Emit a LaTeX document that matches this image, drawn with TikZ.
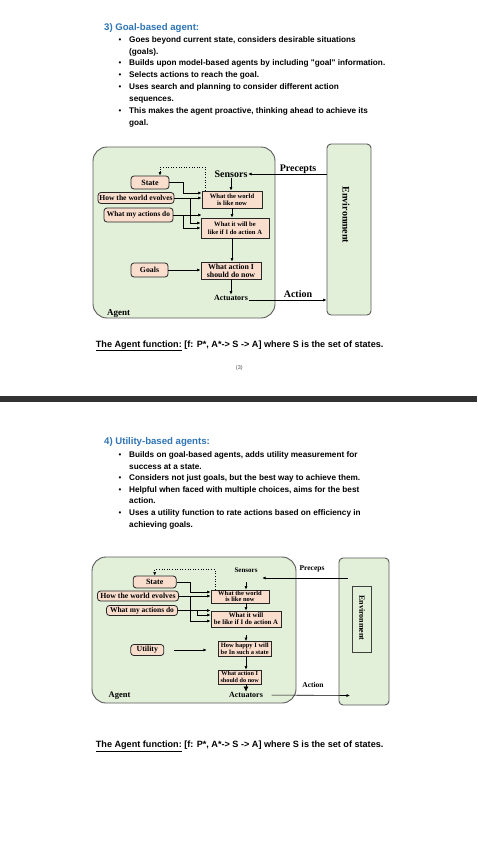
\documentclass[tikz,border=0pt]{standalone}
\usepackage{fontspec}
\setmainfont{Liberation Serif}
\newfontfamily\docfont{Liberation Sans}
\usepackage{tikz}
\usetikzlibrary{arrows.meta}

\definecolor{headblue}{RGB}{46,116,181}
\definecolor{agentgreen}{RGB}{226,239,217}
\definecolor{memopeach}{RGB}{249,221,205}
\definecolor{bandgray}{RGB}{50,50,50}

\newcommand{\dfont}[2]{\bfseries\fontsize{#1}{#2}\selectfont}

\tikzset{
  headline/.style={anchor=base west, inner sep=0pt, text=headblue, font=\docfont\bfseries\fontsize{9.6}{12}\selectfont},
  doctext/.style={anchor=base west, inner sep=0pt, font=\docfont\bfseries\fontsize{8.2}{12}\selectfont},
  functext/.style={anchor=base west, inner sep=0pt, font=\docfont\bfseries\fontsize{9.1}{12}\selectfont},
  bulletdot/.style={anchor=base, inner sep=0pt, font=\docfont\fontsize{8}{8}\selectfont},
  agentbox/.style={draw=black!65, fill=agentgreen, line width=0.9pt, rounded corners=14pt},
  envbox/.style={draw=black!65, fill=agentgreen, line width=0.9pt, rounded corners=4pt},
  memo/.style={draw=black!85, fill=memopeach, line width=0.8pt, rounded corners=3pt, inner sep=0pt},
  proc/.style={draw=black!85, fill=memopeach, line width=0.8pt, inner sep=0pt, align=center},
  tag/.style={inner sep=0.5pt},
  flow/.style={-{Latex[length=3.5pt,width=3pt]}, line width=0.6pt}
}

\begin{document}
\begin{tikzpicture}[x=1pt, y=-1pt]
  \useasboundingbox (0,0) rectangle (477,862);
  \fill[white] (0,0) rectangle (477,862);
  \fill[bandgray] (0,396) rectangle (477,402);

  \begin{scope}
    \node[headline] (head1) at (104,30) {3) Goal-based agent:};
    \node[bulletdot] (d11) at (120,42.3) {\textbullet};
    \node[doctext] (t11) at (129,42.3) {Goes beyond current state, considers desirable situations};
    \node[doctext] (t12) at (129,54.3) {(goals).};
    \node[bulletdot] (d12) at (120,65.8) {\textbullet};
    \node[doctext] (t13) at (129,65.8) {Builds upon model-based agents by including "goal" information.};
    \node[bulletdot] (d13) at (120,77.4) {\textbullet};
    \node[doctext] (t14) at (129,77.4) {Selects actions to reach the goal.};
    \node[bulletdot] (d14) at (120,89.6) {\textbullet};
    \node[doctext] (t15) at (129,89.6) {Uses search and planning to consider different action};
    \node[doctext] (t16) at (129,101.6) {sequences.};
    \node[bulletdot] (d15) at (120,113.4) {\textbullet};
    \node[doctext] (t17) at (129,113.4) {This makes the agent proactive, thinking ahead to achieve its};
    \node[doctext] (t18) at (129,125.2) {goal.};

    \node[agentbox, minimum width=182, minimum height=171] (agent1) at (184,232.5) {};
    \node[envbox, minimum width=44, minimum height=171] (env1) at (349,229.5) {};
    \node[tag, rotate=-90, font=\dfont{10}{10}] (envlbl1) at (346,215) {Environment};
    \node[tag, font=\dfont{9}{9}, anchor=base west] (agentlbl1) at (106.5,315) {Agent};
    \node[tag, font=\dfont{10}{10}] (sensors1) at (231,174) {Sensors};
    \node[tag, font=\dfont{8}{8}] (actuators1) at (231,298) {Actuators};
    \node[tag, font=\dfont{10}{10}] (precepts1) at (298,169) {Precepts};
    \node[tag, font=\dfont{10}{10}] (action1) at (298,294) {Action};

    \node[memo, minimum width=38, minimum height=13, font=\dfont{8}{8}] (state1) at (150,182.5) {State};
    \node[memo, minimum width=76, minimum height=11, font=\dfont{7.6}{8}] (evolve1) at (136,198) {How the world evolves};
    \node[memo, minimum width=69, minimum height=14, font=\dfont{7.4}{8}] (actions1) at (138.5,215) {What my actions do};
    \node[proc, minimum width=60, minimum height=17, font=\dfont{6.6}{7.2}] (now1) at (232,199.5) {What the world\\is like now};
    \node[proc, minimum width=68, minimum height=20, font=\dfont{6.6}{7.6}] (willbe1) at (235,228) {What it will be\\like if I do action A};
    \node[memo, minimum width=37, minimum height=14, font=\dfont{7.8}{8}] (goals1) at (149.5,270) {Goals};
    \node[proc, minimum width=60, minimum height=17, font=\dfont{7.8}{8}] (decide1) at (231,270.5) {What action I\\should do now};

    \draw[flow] (sensors1.south) -- (sensors1.south |- now1.north);
    \draw[flow] (now1.south) -- (now1.south |- willbe1.north);
    \draw[flow] (now1.south |- willbe1.south) -- (now1.south |- decide1.north);
    \draw[flow] (decide1.south) -- (decide1.south |- actuators1.north);
    \draw[flow] (goals1.east) -- (goals1.east -| decide1.west);
    \draw[flow, dotted] ([xshift=-27pt]now1.north) -- ++(0,-23.5) -| ([xshift=10pt]state1.north);
    \draw[flow] (state1.east) -- ++(14,0) |- ([yshift=6.5pt]now1.west);
    \draw[flow] (evolve1.east) -- (evolve1.east -| now1.west);
    \draw[flow] (evolve1.east) -- ++(16,0) |- ([yshift=5pt]willbe1.west);
    \draw[flow] (actions1.east) -- (actions1.east -| now1.west);
    \draw[flow] (actions1.east) -- ++(10,0) |- (willbe1.west);
    \draw[flow] (sensors1.east -| env1.west) -- (sensors1.east);
    \draw[flow] ([yshift=-2pt]actuators1.east) -- ([yshift=-2pt]actuators1.east -| env1.west);

    \node[functext] (func1) at (95.7,347.2) {\underline{The Agent function:} [f: P*, A*-> S -> A] where S is the set of states.};
    \node[inner sep=0pt, text=black!70, font=\docfont\fontsize{5.5}{6}\selectfont] (page1) at (239.3,367.7) {(3)};
  \end{scope}

  \begin{scope}
    \node[headline] (head2) at (104,444.6) {4) Utility-based agents:};
    \node[bulletdot] (d21) at (120,457) {\textbullet};
    \node[doctext] (t21) at (129,457) {Builds on goal-based agents, adds utility measurement for};
    \node[doctext] (t22) at (129,469) {success at a state.};
    \node[bulletdot] (d22) at (120,480.5) {\textbullet};
    \node[doctext] (t23) at (129,480.5) {Considers not just goals, but the best way to achieve them.};
    \node[bulletdot] (d23) at (120,492) {\textbullet};
    \node[doctext] (t24) at (129,492) {Helpful when faced with multiple choices, aims for the best};
    \node[doctext] (t25) at (129,503.5) {action.};
    \node[bulletdot] (d24) at (120,515.5) {\textbullet};
    \node[doctext] (t26) at (129,515.5) {Uses a utility function to rate actions based on efficiency in};
    \node[doctext] (t27) at (129,527) {achieving goals.};

    \node[agentbox, minimum width=204, minimum height=146] (agent2) at (194,630) {};
    \node[envbox, minimum width=50, minimum height=147] (env2) at (364,631.5) {};
    \node[draw=black!75, line width=0.8pt, minimum width=19, minimum height=66, inner sep=0pt] (envframe2) at (362,619) {};
    \node[tag, rotate=-90, font=\dfont{8}{8}] (envlbl2) at (362,618) {Environment};
    \node[tag, font=\dfont{8.5}{8.5}, anchor=base west] (agentlbl2) at (108,697) {Agent};
    \node[tag, font=\dfont{7}{7}] (sensors2) at (246,570) {Sensors};
    \node[tag, font=\dfont{8}{8}] (actuators2) at (246,695) {Actuators};
    \node[tag, font=\dfont{7.5}{7.5}] (preceps2) at (312,569) {Preceps};
    \node[tag, font=\dfont{7.5}{7.5}] (action2) at (313,685) {Action};

    \node[memo, minimum width=43, minimum height=12, font=\dfont{8}{8}] (state2) at (154.7,582) {State};
    \node[memo, minimum width=81, minimum height=10, font=\dfont{7.8}{8}] (evolve2) at (138,596) {How the world evolves};
    \node[memo, minimum width=71, minimum height=10, font=\dfont{7.5}{8}] (actions2) at (142,610.5) {What my actions do};
    \node[proc, minimum width=58, minimum height=13, font=\dfont{6.5}{6.5}] (now2) at (240,596.5) {What the world\\is like now};
    \node[proc, minimum width=70, minimum height=16, font=\dfont{6.8}{7.2}] (willbe2) at (246,619) {What it will\\be like if I do action A};
    \node[memo, minimum width=33, minimum height=11, font=\dfont{7.8}{8}] (utility2) at (147.3,650) {Utility};
    \node[proc, minimum width=53, minimum height=15, font=\dfont{6.5}{7}] (happy2) at (244.7,649) {How happy I will\\be In such a state};
    \node[proc, minimum width=43, minimum height=14, font=\dfont{6.2}{6.6}] (decide2) at (239.7,677) {What action I\\should do now};

    \coordinate (precin2) at (348,578);
    \coordinate (actin2) at (350,695.5);

    \draw[flow, shorten <=9pt] (sensors2.south) -- (sensors2.south |- now2.north);
    \draw[flow, dotted] ([xshift=-25pt]now2.north) -- ++(0,-20) -| (state2.north);
    \draw[flow] (state2.east) -- ++(14,0) |- ([yshift=4.5pt]now2.west);
    \draw[flow] (evolve2.east) -- (evolve2.east -| now2.west);
    \draw[flow] (evolve2.east) -- ++(11.7,0) |- ([yshift=-2pt]willbe2.west);
    \draw[flow] (actions2.east) -- (actions2.east -| now2.west);
    \draw[flow] (actions2.east) -- ++(19.5,0) |- ([yshift=4pt]willbe2.west);
    \draw[flow] (willbe2.north |- now2.south) -- (willbe2.north);
    \draw[flow, shorten <=8pt] (willbe2.south) -- (willbe2.south |- happy2.north);
    \draw[flow] (willbe2.south |- happy2.south) -- (willbe2.south |- decide2.north);
    \draw[flow, -{Latex[length=5pt,width=5pt]}] (actuators2 |- decide2.south) -- (actuators2.north);
    \draw[flow, shorten <=10pt, shorten >=11pt] (utility2.east) -- (utility2.east -| happy2.west);
    \draw[flow, shorten >=4pt] (precin2) -- (precin2 -| sensors2.east);
    \draw[flow, shorten <=8pt] (actuators2.east) -- (actin2);

    \node[functext] (func2) at (95.7,747.5) {\underline{The Agent function:} [f: P*, A*-> S -> A] where S is the set of states.};
  \end{scope}
\end{tikzpicture}
\end{document}
